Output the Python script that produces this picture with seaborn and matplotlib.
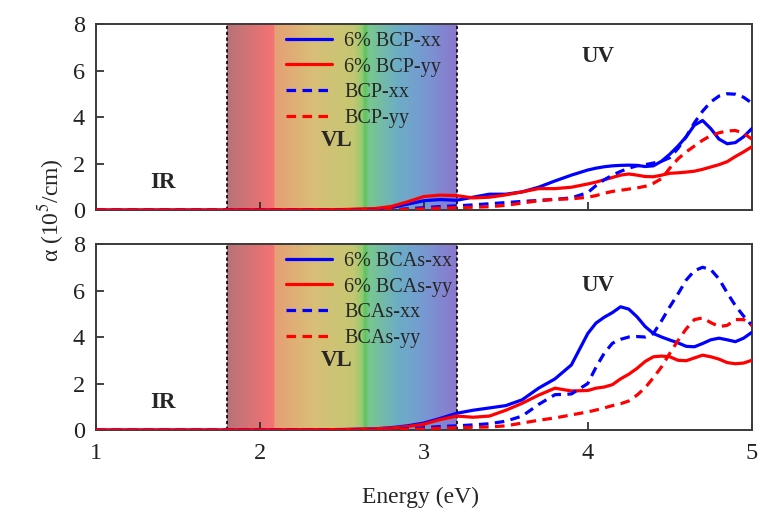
import numpy as np
import pandas as pd
import seaborn as sns
import matplotlib.pyplot as plt
from matplotlib.colors import LinearSegmentedColormap

# photon energy grid (eV) shared by all curves
energy = [1.0, 2.0, 2.5, 2.7, 2.8, 2.9, 3.0, 3.1, 3.2, 3.3, 3.4, 3.5, 3.6, 3.7, 3.8, 3.9,
          4.0, 4.05, 4.1, 4.15, 4.2, 4.25, 4.3, 4.35, 4.4, 4.45, 4.5, 4.55, 4.6, 4.65,
          4.7, 4.75, 4.8, 4.85, 4.9, 4.95, 5.0]

# top panel: BCP (10^5 /cm)
bcp6_xx = [0, 0, 0.01, 0.04, 0.1, 0.25, 0.4, 0.45, 0.42, 0.55, 0.68, 0.68, 0.78, 0.98, 1.25, 1.5,
           1.72, 1.8, 1.86, 1.9, 1.92, 1.93, 1.92, 1.87, 1.9, 2.1, 2.4, 2.75, 3.15, 3.65,
           3.85, 3.5, 3.05, 2.85, 2.9, 3.15, 3.5]
bcp6_yy = [0, 0, 0.02, 0.06, 0.15, 0.35, 0.58, 0.64, 0.62, 0.52, 0.55, 0.65, 0.78, 0.92, 0.92, 0.98,
           1.12, 1.2, 1.3, 1.4, 1.5, 1.55, 1.5, 1.44, 1.43, 1.5, 1.58, 1.6, 1.63, 1.67,
           1.75, 1.85, 1.95, 2.08, 2.3, 2.5, 2.72]
bcp_xx = [0, 0, 0, 0.01, 0.02, 0.05, 0.1, 0.15, 0.18, 0.22, 0.27, 0.32, 0.37, 0.41, 0.46, 0.52,
          0.75, 1.05, 1.3, 1.5, 1.66, 1.8, 1.9, 1.95, 2.02, 2.1, 2.25, 2.65, 3.15, 3.75,
          4.25, 4.65, 4.9, 5.0, 4.98, 4.85, 4.6]
bcp_yy = [0, 0, 0, 0, 0.01, 0.02, 0.05, 0.08, 0.1, 0.12, 0.14, 0.2, 0.3, 0.4, 0.46, 0.48,
          0.55, 0.62, 0.72, 0.8, 0.85, 0.9, 0.95, 1.02, 1.15, 1.35, 1.8, 2.2, 2.5, 2.75,
          3.0, 3.2, 3.32, 3.4, 3.42, 3.3, 3.05]

# bottom panel: BCAs (10^5 /cm)
bcas6_xx = [0, 0, 0.02, 0.05, 0.1, 0.18, 0.3, 0.5, 0.72, 0.85, 0.95, 1.05, 1.3, 1.8, 2.2, 2.8,
            4.15, 4.6, 4.85, 5.05, 5.3, 5.2, 4.87, 4.45, 4.15, 4.0, 3.87, 3.75, 3.6, 3.58,
            3.72, 3.88, 3.95, 3.88, 3.8, 3.95, 4.2]
bcas6_yy = [0, 0, 0.02, 0.05, 0.08, 0.15, 0.25, 0.45, 0.6, 0.55, 0.6, 0.85, 1.15, 1.5, 1.8, 1.68,
            1.7, 1.8, 1.85, 1.95, 2.2, 2.4, 2.65, 2.95, 3.15, 3.18, 3.15, 3.0, 2.98, 3.1,
            3.22, 3.15, 3.05, 2.9, 2.85, 2.88, 3.0]
bcas_xx = [0, 0, 0, 0.01, 0.02, 0.05, 0.1, 0.15, 0.18, 0.22, 0.27, 0.38, 0.6, 1.1, 1.52, 1.55,
           2.0, 2.7, 3.3, 3.73, 3.9, 4.0, 4.02, 4.0, 4.15, 4.7, 5.3, 5.85, 6.45, 6.85,
           7.0, 6.9, 6.5, 5.9, 5.35, 4.9, 4.5]
bcas_yy = [0, 0, 0, 0, 0.01, 0.02, 0.05, 0.08, 0.1, 0.12, 0.13, 0.18, 0.3, 0.42, 0.52, 0.65,
           0.78, 0.86, 0.95, 1.05, 1.13, 1.25, 1.5, 1.82, 2.25, 2.72, 3.3, 3.85, 4.35, 4.75,
           4.82, 4.62, 4.45, 4.5, 4.75, 4.75, 4.5]

panels = [
    [("6% BCP-xx", bcp6_xx), ("6% BCP-yy", bcp6_yy), ("BCP-xx", bcp_xx), ("BCP-yy", bcp_yy)],
    [("6% BCAs-xx", bcas6_xx), ("6% BCAs-yy", bcas6_yy), ("BCAs-xx", bcas_xx), ("BCAs-yy", bcas_yy)],
]
styles = [("#0000ff", "-"), ("#ff0000", "-"), ("#0000ff", "--"), ("#ff0000", "--")]
uv_y = [6.6, 6.2]

# visible light band
vl_lo, vl_hi = 1.8, 3.2
spectrum = LinearSegmentedColormap.from_list("vl", [
    (0.00, "#b36c72"), (0.20, "#f56a6a"), (0.205, "#e59a6e"), (0.38, "#d6bc70"),
    (0.55, "#c2c46a"), (0.59, "#8ec868"), (0.60, "#55c055"), (0.62, "#72c48a"),
    (0.75, "#64a8c4"), (0.85, "#6e96d0"), (1.00, "#8470cc")])

sns.set_style("ticks")
plt.rcParams["font.family"] = ["Liberation Serif", "DejaVu Serif"]
plt.rcParams["mathtext.fontset"] = "stix"

fig = plt.figure(figsize=(7.6, 5.15), dpi=100)
ax_top = fig.add_axes([0.126, 0.5922, 0.8632, 0.3612])
ax_bot = fig.add_axes([0.126, 0.165, 0.8632, 0.3612])

for ax, curves, uvy in zip([ax_top, ax_bot], panels, uv_y):
    grad = np.linspace(0, 1, 400).reshape(1, -1)
    ax.imshow(grad, cmap=spectrum, extent=[vl_lo, vl_hi, 0, 8], aspect="auto",
              alpha=0.95, zorder=0)
    for xv in (vl_lo, vl_hi):
        ax.axvline(xv, color="black", ls=(0, (2, 1.5)), lw=1.2, zorder=1)
    for (label, vals), (col, ls) in zip(curves, styles):
        df = pd.DataFrame({"E": energy, "a": vals})
        sns.lineplot(data=df, x="E", y="a", ax=ax, color=col, lw=2.3,
                     linestyle=ls, dashes=False, label=label, zorder=3)
        if ls == "--":
            ax.lines[-1].set_dashes((3, 2))
    ax.set_xlim(1, 5)
    ax.set_ylim(0, 8)
    ax.set_yticks([0, 2, 4, 6, 8])
    ax.set_xticks([1, 2, 3, 4, 5])
    ax.set_xlabel("")
    ax.set_ylabel("")
    ax.tick_params(direction="in", length=6, width=1.2, labelsize=17.5, colors="#222222",
                   top=False, right=False)
    ax.tick_params(axis="y", pad=8)
    ax.tick_params(axis="x", pad=9)
    for sp in ax.spines.values():
        sp.set_color("#3a3a3a")
        sp.set_linewidth(1.4)
    ax.legend(loc="upper left", bbox_to_anchor=(0.262, 1.055), frameon=False,
              fontsize=14.5, handlelength=2.3, labelspacing=0.32, handletextpad=0.6)
    ax.text(1.41, 1.2, "IR", fontsize=16.5, fontweight="bold", ha="center", va="center")
    ax.text(2.47, 3.0, "VL", fontsize=16.5, fontweight="bold", ha="center", va="center")
    ax.text(4.06, uvy, "UV", fontsize=16.5, fontweight="bold", ha="center", va="center")

ax_top.tick_params(labelbottom=False)

fig.text(0.066, 0.592, r"α (10$^5$/cm)", rotation=90, ha="center", va="center", fontsize=17)
fig.text(0.553, 0.035, "Energy (eV)", ha="center", va="center", fontsize=17)

fig.savefig("out.png", dpi=100)
